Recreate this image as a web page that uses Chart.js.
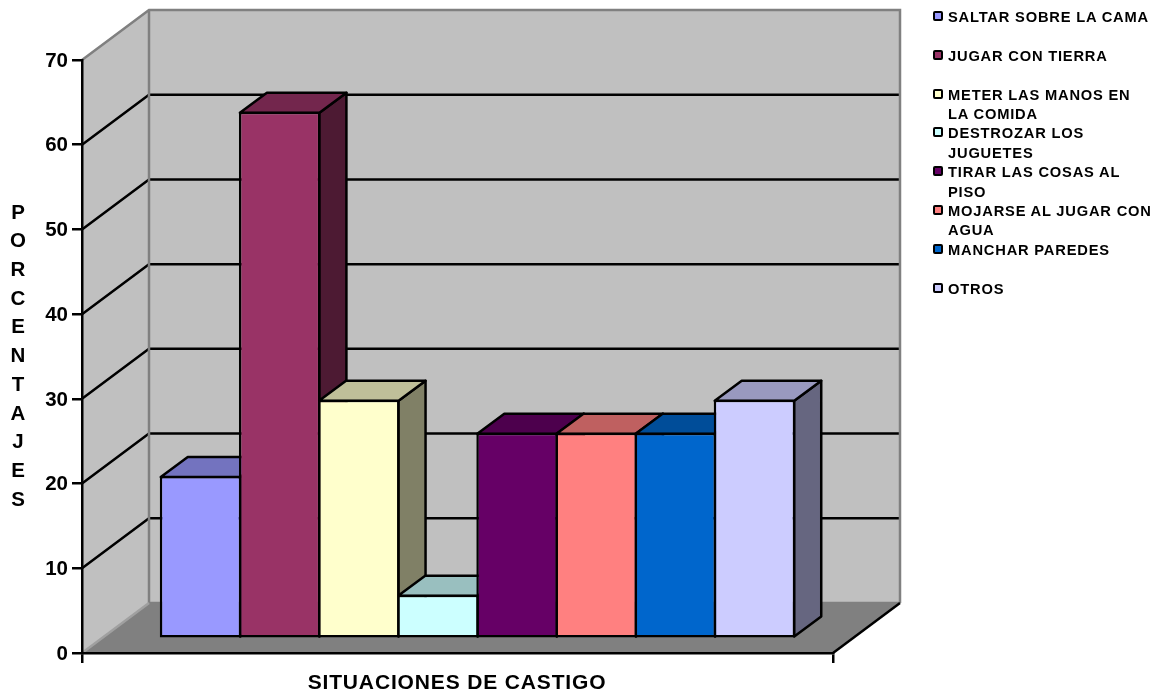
<!DOCTYPE html>
<html>
<head>
<meta charset="utf-8">
<title>Situaciones de castigo</title>
<script src="https://cdn.jsdelivr.net/npm/chart.js@4"></script>
<style>
    body { margin: 0; background: #fff; }
    #caja { position: relative; width: 1159px; height: 694px; overflow: hidden; }
    #grafica { display: block; }
    .item { position: absolute; left: 948px; width: 206px; font: bold 14.7px "Liberation Sans", Arial, sans-serif; line-height: 19.4px; letter-spacing: 0.8px; color: #000; }
    .cuadro { position: absolute; left: -15px; top: 3px; width: 6px; height: 6px; border: 2.5px solid #000; border-radius: 2px; }
</style>
</head>
<body>
<div id="caja">
    <canvas id="grafica" width="1159" height="694"></canvas>
</div>
<script>
const categorias = ['SITUACIONES DE CASTIGO'];
const situaciones = ['SALTAR SOBRE LA CAMA', 'JUGAR CON TIERRA', 'METER LAS MANOS EN LA COMIDA', 'DESTROZAR LOS JUGUETES', 'TIRAR LAS COSAS AL PISO', 'MOJARSE AL JUGAR CON AGUA', 'MANCHAR PAREDES', 'OTROS'];
const porcentajes = [19.2, 62.2, 28.2, 5.2, 24.3, 24.3, 24.3, 28.2];
const tituloY = ['P', 'O', 'R', 'C', 'E', 'N', 'T', 'A', 'J', 'E', 'S'];

const colores = [[153, 153, 255], [153, 51, 102], [255, 255, 204], [204, 255, 255], [102, 0, 102], [255, 128, 128], [0, 102, 204], [204, 204, 255]];

// profundidad del dibujo 3D
const FONDO_X = 67, FONDO_Y = 50;
const BARRA_X = 20, BARRA_Y = -14.3;
const CARA_X = 27, CARA_Y = 20;
const GROSOR = 2.5;

const familia = '"Liberation Sans", Arial, sans-serif';

function tono(c, f) {
    return 'rgb(' + c.map(v => Math.round(v * f)).join(',') + ')';
}

function poligono(ctx, puntos, relleno, linea, grosor) {
    ctx.beginPath();
    puntos.forEach((p, i) => i ? ctx.lineTo(p[0], p[1]) : ctx.moveTo(p[0], p[1]));
    ctx.closePath();
    if (relleno) { ctx.fillStyle = relleno; ctx.fill(); }
    if (linea) { ctx.strokeStyle = linea; ctx.lineWidth = grosor; ctx.lineJoin = 'round'; ctx.stroke(); }
}

function linea(ctx, puntos, color) {
    ctx.beginPath();
    puntos.forEach((p, i) => i ? ctx.lineTo(p[0], p[1]) : ctx.moveTo(p[0], p[1]));
    ctx.strokeStyle = color;
    ctx.lineWidth = GROSOR;
    ctx.stroke();
}

const paredes = {
    id: 'paredes',
    beforeDraw(chart) {
        const ctx = chart.ctx, y = chart.scales.y, a = chart.chartArea;
        const izq = a.left, der = a.right, arriba = a.top, abajo = y.getPixelForValue(0);
        ctx.save();
        poligono(ctx, [[izq + FONDO_X, arriba - FONDO_Y], [der + FONDO_X, arriba - FONDO_Y], [der + FONDO_X, abajo - FONDO_Y], [izq + FONDO_X, abajo - FONDO_Y]], '#c0c0c0');
        poligono(ctx, [[izq, arriba], [izq + FONDO_X, arriba - FONDO_Y], [izq + FONDO_X, abajo - FONDO_Y], [izq, abajo]], '#c0c0c0');
        poligono(ctx, [[izq, abajo], [izq + FONDO_X, abajo - FONDO_Y], [der + FONDO_X, abajo - FONDO_Y], [der, abajo]], '#808080');

        y.ticks.forEach(t => {
            if (t.value === 0 || t.value === y.max) return;
            const py = y.getPixelForValue(t.value);
            linea(ctx, [[izq, py], [izq + FONDO_X, py - FONDO_Y], [der + FONDO_X, py - FONDO_Y]], '#000');
        });

        linea(ctx, [[izq, arriba], [izq + FONDO_X, arriba - FONDO_Y], [der + FONDO_X, arriba - FONDO_Y], [der + FONDO_X, abajo - FONDO_Y]], '#808080');
        linea(ctx, [[izq + FONDO_X, arriba - FONDO_Y], [izq + FONDO_X, abajo - FONDO_Y], [der + FONDO_X, abajo - FONDO_Y]], '#808080');
        linea(ctx, [[izq, abajo], [izq + FONDO_X, abajo - FONDO_Y]], '#a0a0a0');
        linea(ctx, [[der, abajo], [der + FONDO_X, abajo - FONDO_Y]], '#000');
        ctx.restore();
    },
    beforeDatasetsDraw(chart) {
        // primero todas las caras laterales y superiores, de izquierda a derecha
        const ctx = chart.ctx;
        ctx.save();
        ctx.translate(BARRA_X, BARRA_Y);
        chart.data.datasets.forEach((d, i) => {
            const b = chart.getDatasetMeta(i).data[0];
            const izq = b.x - b.width / 2 + 1, der = b.x + b.width / 2 - 1;
            const tope = b.y + 1, base = b.base - 1;
            poligono(ctx, [[der, tope], [der + CARA_X, tope - CARA_Y], [der + CARA_X, base - CARA_Y], [der, base]], tono(colores[i], 0.5), '#000', GROSOR);
            poligono(ctx, [[izq, tope], [izq + CARA_X, tope - CARA_Y], [der + CARA_X, tope - CARA_Y], [der, tope]], tono(colores[i], 0.75), '#000', GROSOR);
        });
    },
    afterDatasetsDraw(chart) {
        const ctx = chart.ctx;
        ctx.restore();

        ctx.save();
        ctx.fillStyle = '#000';
        ctx.textAlign = 'center';
        ctx.textBaseline = 'middle';
        ctx.font = 'bold 20.5px ' + familia;
        tituloY.forEach((letra, i) => ctx.fillText(letra, 18, 213 + i * 28.7));
        ctx.font = 'bold 21px ' + familia;
        ctx.letterSpacing = '0.85px';
        ctx.fillText(categorias[0], 457, 683);
        ctx.restore();
    }
};

const datasets = situaciones.map((nombre, i) => ({
    label: nombre,
    data: [porcentajes[i]],
    backgroundColor: tono(colores[i], 1),
    borderColor: '#000',
    borderWidth: GROSOR,
    borderSkipped: false,
    clip: false,
    categoryPercentage: 0.843,
    barPercentage: 1.03
}));

const grafica = new Chart(document.getElementById('grafica').getContext('2d'), {
    type: 'bar',
    data: { labels: categorias, datasets: datasets },
    plugins: [paredes],
    options: {
        responsive: false,
        animation: false,
        layout: { padding: { top: 60, right: 326, left: 0, bottom: 0 } },
        plugins: { legend: { display: false }, tooltip: { enabled: false } },
        scales: {
            x: {
                grid: { drawOnChartArea: false, color: '#000', lineWidth: GROSOR, tickLength: 10, offset: true },
                border: { color: '#000', width: GROSOR },
                ticks: { display: false },
                afterFit(scale) { scale.height = 41; }
            },
            y: {
                min: 0,
                max: 70,
                grid: { drawOnChartArea: false, color: '#000', lineWidth: GROSOR, tickLength: 10 },
                border: { color: '#000', width: GROSOR },
                ticks: { stepSize: 10, color: '#000', padding: 4, labelOffset: 1, font: { family: familia, size: 20.5, weight: 'bold' } },
                afterFit(scale) { scale.width = 82; }
            }
        }
    }
});

// leyenda a partir de los datasets
const caja = document.getElementById('caja');
grafica.data.datasets.forEach((d, i) => {
    const item = document.createElement('div');
    item.className = 'item';
    item.style.top = (8 + i * 38.8) + 'px';
    const cuadro = document.createElement('span');
    cuadro.className = 'cuadro';
    cuadro.style.background = d.backgroundColor;
    item.appendChild(cuadro);
    item.appendChild(document.createTextNode(d.label));
    caja.appendChild(item);
});
</script>
</body>
</html>
